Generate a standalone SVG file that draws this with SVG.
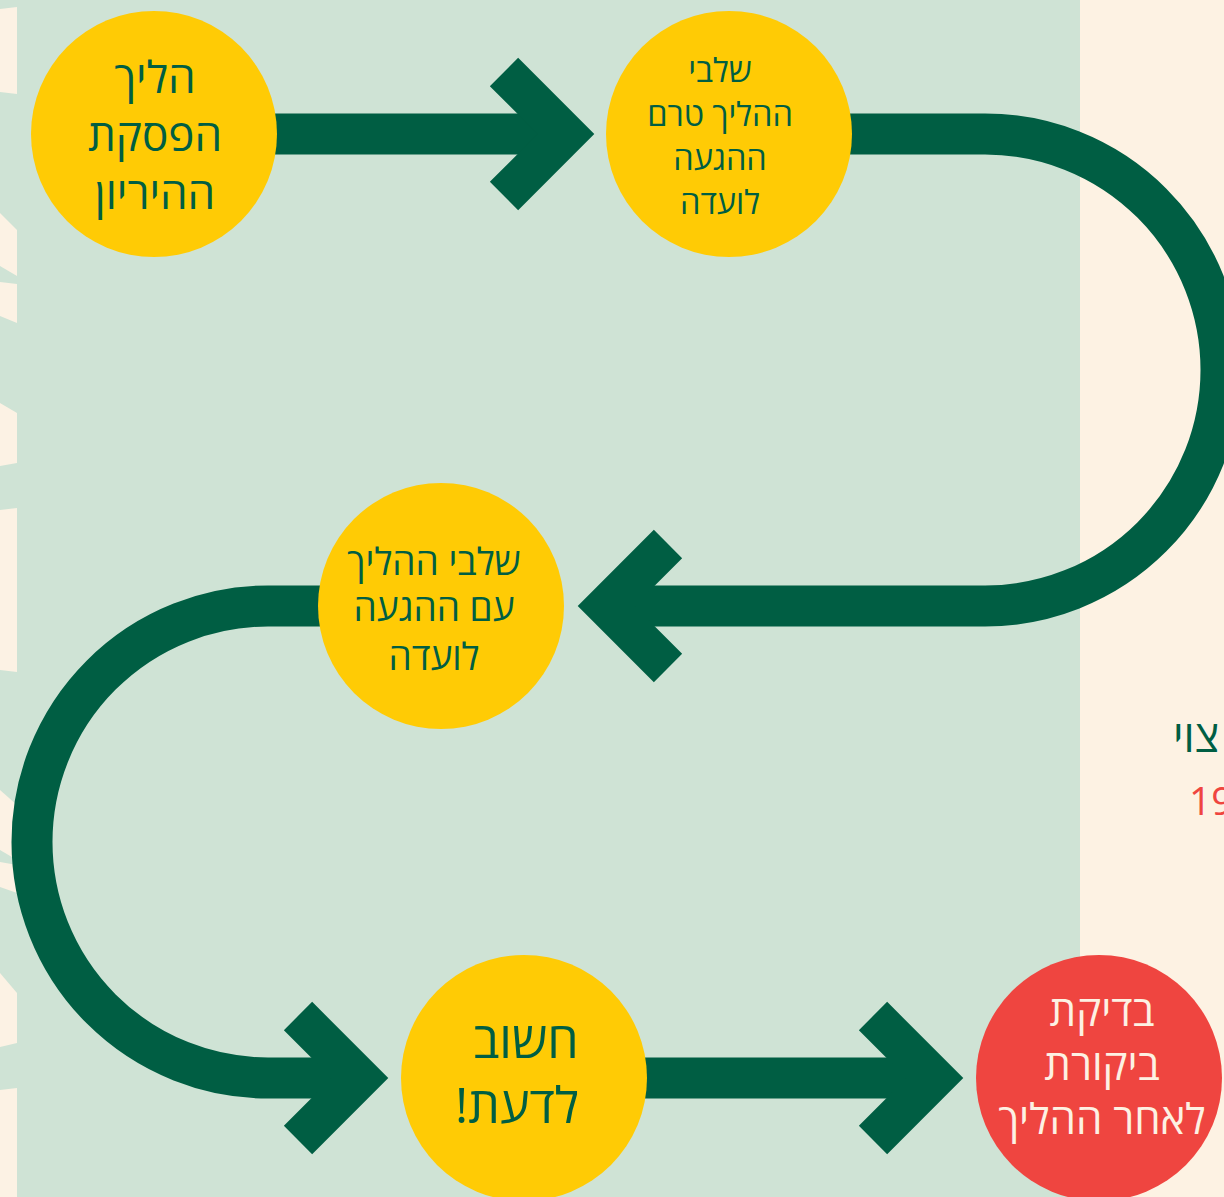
<svg xmlns="http://www.w3.org/2000/svg" width="1224" height="1197" viewBox="0 0 1224 1197">
<style>
.node{fill:#FFCB05}
.red{fill:#EF4540}
.t{font-family:"Open Sans","DejaVu Sans",sans-serif;fill:#005E43;text-anchor:middle;direction:rtl}
.tw{font-family:"Open Sans","DejaVu Sans",sans-serif;fill:#FDF1E3;text-anchor:middle;direction:rtl}
.line{fill:none;stroke:#005E43;stroke-width:41}
.head{fill:none;stroke:#005E43;stroke-width:40;stroke-linejoin:miter;stroke-miterlimit:10}
.cream{fill:#FCF2E4}
</style>
<rect x="0" y="0" width="1224" height="1197" fill="#CFE3D5"/>
<rect x="1080" y="0" width="144" height="1197" fill="#FDF2E3"/>
<g id="edge-pattern">
<polygon class="cream" points="0,9 17,7 17,94 0,92"/>
<polygon class="cream" points="0,213 17,230 17,276 0,266"/>
<polygon class="cream" points="0,282 17,284 17,323 0,316"/>
<polygon class="cream" points="0,403 17,413 17,463 0,466"/>
<polygon class="cream" points="0,510 17,508 17,672 0,670"/>
<polygon class="cream" points="0,790 17,805 17,860 0,850"/>
<polygon class="cream" points="0,862 17,865 17,893 0,887"/>
<polygon class="cream" points="0,973 17,993 17,1043 0,1047"/>
<polygon class="cream" points="0,1090 17,1088 17,1197 0,1197"/>
</g>
<g id="side-text">
<text x="1173" y="752" font-family="Open Sans, DejaVu Sans, sans-serif" font-size="44" fill="#005E43" style="direction:rtl" text-anchor="end">צוי</text>
<text x="1189" y="815" font-family="Open Sans, DejaVu Sans, sans-serif" font-size="39" fill="#EF4540">19</text>
</g>
<g id="connectors">
<path class="line" d="M270,134 H570"/>
<polyline class="head" points="504,72 566,134 504,196"/>
<path class="line" d="M845,134 H985 A236,236 0 0 1 985,606 H610"/>
<polyline class="head" points="668,544 606,606 668,668"/>
<path class="line" d="M325,606 H268 A236,236 0 0 0 268,1078 H360"/>
<polyline class="head" points="298,1016 360,1078 298,1140"/>
<path class="line" d="M640,1078 H935"/>
<polyline class="head" points="873,1016 935,1078 873,1140"/>
</g>
<g id="node1">
<circle class="node" cx="154" cy="134" r="123"/>
<text class="t" font-size="44"><tspan x="155" y="93">הליך</tspan><tspan x="155" y="151">הפסקת</tspan><tspan x="155" y="209">ההיריון</tspan></text>
</g>
<g id="node2">
<circle class="node" cx="729" cy="134" r="123"/>
<text class="t" font-size="32.5"><tspan x="720" y="82">שלבי</tspan><tspan x="720" y="126">ההליך טרם</tspan><tspan x="720" y="170">ההגעה</tspan><tspan x="720" y="214">לועדה</tspan></text>
</g>
<g id="node3">
<circle class="node" cx="441" cy="606" r="123"/>
<text class="t" font-size="37"><tspan x="434" y="575">שלבי ההליך</tspan><tspan x="434" y="621">עם ההגעה</tspan><tspan x="434" y="670">לועדה</tspan></text>
</g>
<g id="node4">
<circle class="node" cx="524" cy="1078" r="123"/>
<text class="t" font-size="50"><tspan x="526" y="1058">חשוב</tspan><tspan x="517" y="1123">לדעת!</tspan></text>
</g>
<g id="node5">
<circle class="red" cx="1099" cy="1078" r="123"/>
<text class="tw" font-size="42"><tspan x="1102" y="1026">בדיקת</tspan><tspan x="1102" y="1080">ביקורת</tspan><tspan x="1102" y="1134">לאחר ההליך</tspan></text>
</g>
</svg>
